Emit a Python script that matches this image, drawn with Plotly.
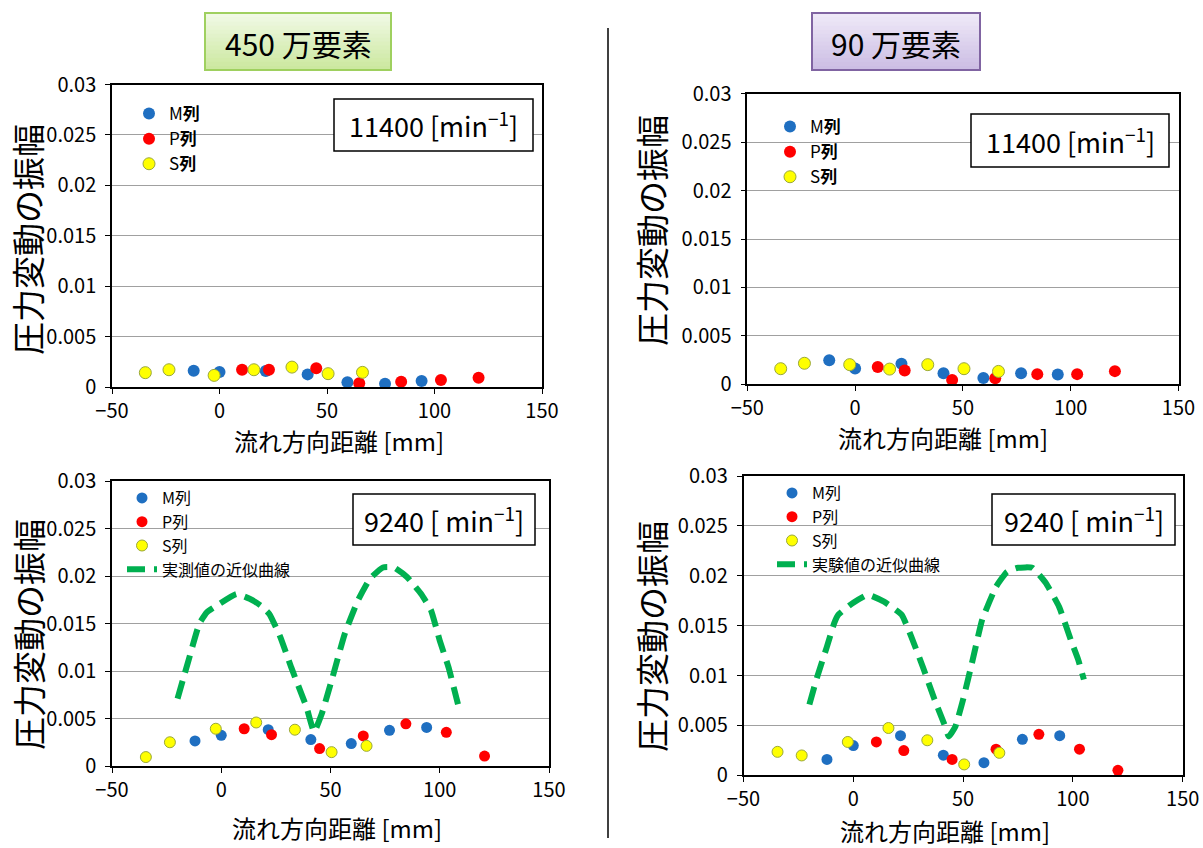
import plotly.graph_objects as go

W, H = 1203, 848
FONT = "Noto Sans CJK JP, Noto Sans, sans-serif"

# ---------------- data ----------------
M_x = [-12, 0, 21.5, 41, 59.5, 77, 94]
P_x = [10.5, 23, 45, 65, 84.5, 103, 120.5]
S_x = [-34.5, -23.5, -2.5, 16, 33.7, 50.5, 66.5]

# 450万要素, 11400 min-1
tl_M = [0.00164, 0.00151, 0.00161, 0.00128, 0.00049, 0.00036, 0.00063]
tl_P = [0.00174, 0.00174, 0.00188, 0.00039, 0.00056, 0.00072, 0.00095]
tl_S = [0.00145, 0.00174, 0.00118, 0.00174, 0.00200, 0.00135, 0.00148]

# 90万要素, 11400 min-1
tr_M = [0.00248, 0.00164, 0.00213, 0.00115, 0.00066, 0.00115, 0.00101]
tr_P = [0.00178, 0.00143, 0.00045, 0.00063, 0.00105, 0.00105, 0.00136]
tr_S = [0.00161, 0.00217, 0.00203, 0.00157, 0.00203, 0.00161, 0.00133]

# 450万要素, 9240 min-1
bl_M = [0.00264, 0.00323, 0.00382, 0.00278, 0.00236, 0.00375, 0.00406]
bl_P = [0.00392, 0.00330, 0.00184, 0.00316, 0.00444, 0.00354, 0.00104]
bl_S = [0.00094, 0.00250, 0.00392, 0.00458, 0.00382, 0.00146, 0.00212]

# 90万要素, 9240 min-1
br_M = [0.00159, 0.00298, 0.00397, 0.00202, 0.00126, 0.00361, 0.00397]
br_P = [0.00334, 0.00248, 0.00159, 0.00262, 0.00411, 0.00262, 0.00050]
br_S = [0.00235, 0.00199, 0.00334, 0.00474, 0.00351, 0.00109, 0.00225]

# approximate curves of the measured values
bl_curve_x = [-20, -15, -10, -6.5, -2, 7, 13, 18, 22, 27, 32, 39, 42.5, 46, 51,
              56.5, 62.5, 68, 74, 79, 85, 91.5, 96, 100, 104, 109]
bl_curve_y = [0.0071, 0.0111, 0.0150, 0.0162, 0.0169, 0.0181, 0.0176, 0.0169,
              0.0160, 0.0136, 0.0104, 0.0062, 0.0036, 0.0055, 0.0094, 0.0139,
              0.0174, 0.0197, 0.0209, 0.0209, 0.0199, 0.0181, 0.0164, 0.0132,
              0.0104, 0.0059]
br_curve_x = [-20, -16.4, -12, -8.6, -6.8, 0, 6.6, 14, 22, 26.4, 31.6, 37, 41.3,
              43.5, 46.5, 50, 54.4, 58.7, 65, 70, 75, 81.5, 87.6, 93.7, 99,
              102.4, 105]
br_curve_y = [0.0071, 0.0099, 0.0129, 0.0153, 0.0161, 0.0173, 0.0181, 0.0174,
              0.0161, 0.0139, 0.0109, 0.0076, 0.0052, 0.0039, 0.0049, 0.0076,
              0.0116, 0.0156, 0.0189, 0.0204, 0.0208, 0.0208, 0.0193, 0.0169,
              0.0136, 0.0116, 0.0096]

x_ticks = [-50, 0, 50, 100, 150]
y_ticks = [0, 0.005, 0.01, 0.015, 0.02, 0.025, 0.03]

series_names_top = ["M<b>列</b>", "P<b>列</b>", "S<b>列</b>"]
series_names_bot = ["M列", "P列", "S列"]
curve_names = ["実測値の近似曲線", "実験値の近似曲線"]
panel_titles = ["450 万要素", "90 万要素"]
speed_labels = ["11400 [min<sup>−1</sup>]", "9240 [ min<sup>−1</sup>]"]
x_title = "流れ方向距離 [mm]"
y_title = "圧力変動の振幅"

# ---------------- styles ----------------
COL_M = "#1f6fc1"
COL_P = "#ff0000"
COL_S = "#ffff00"
COL_S_LINE = "#9aa83a"
COL_CURVE = "#00b050"


def px_x(p):
    return p / W


def px_y(p):
    return 1 - p / H


fig = go.Figure()

# axis domains in pixel coordinates: (left, right, top, bottom)
panels = [
    ("x", "y", (112, 542, 84.5, 387.3), "legend"),
    ("x2", "y2", (747.3, 1178.5, 93.7, 384.3), "legend2"),
    ("x3", "y3", (112, 549, 481, 766), "legend3"),
    ("x4", "y4", (743.5, 1182.7, 476, 775.3), "legend4"),
]

data_sets = [
    (tl_M, tl_P, tl_S, None, None, series_names_top, None),
    (tr_M, tr_P, tr_S, None, None, series_names_top, None),
    (bl_M, bl_P, bl_S, bl_curve_x, bl_curve_y, series_names_bot, curve_names[0]),
    (br_M, br_P, br_S, br_curve_x, br_curve_y, series_names_bot, curve_names[1]),
]

for (xa, ya, dom, leg), (yM, yP, yS, cx, cy, names, cname) in zip(panels, data_sets):
    msize = 12 if cx is None else 11
    fig.add_trace(go.Scatter(x=M_x, y=yM, mode="markers", name=names[0],
                             marker=dict(color=COL_M, size=msize, line=dict(width=0)),
                             xaxis=xa, yaxis=ya, legend=leg, legendgroup=leg + "m"))
    fig.add_trace(go.Scatter(x=P_x, y=yP, mode="markers", name=names[1],
                             marker=dict(color=COL_P, size=msize, line=dict(width=0)),
                             xaxis=xa, yaxis=ya, legend=leg, legendgroup=leg + "p"))
    fig.add_trace(go.Scatter(x=S_x, y=yS, mode="markers", name=names[2],
                             marker=dict(color=COL_S, size=msize,
                                         line=dict(width=1, color=COL_S_LINE)),
                             xaxis=xa, yaxis=ya, legend=leg, legendgroup=leg + "s"))
    if cx is not None:
        fig.add_trace(go.Scatter(x=cx, y=cy, mode="lines", name=cname,
                                 line=dict(color=COL_CURVE, width=6, dash="18px,9px",
                                           shape="spline", smoothing=0.4),
                                 xaxis=xa, yaxis=ya, legend=leg, legendgroup=leg + "c"))

layout = dict(
    template="none",
    width=W, height=H, autosize=False,
    margin=dict(l=0, r=0, t=0, b=0, pad=0),
    paper_bgcolor="white", plot_bgcolor="white",
    font=dict(family=FONT, color="black", size=18),
    showlegend=True,
)

for i, (xa, ya, dom, leg) in enumerate(panels):
    l, r, t, b = dom
    xkey = "xaxis" if xa == "x" else "xaxis" + xa[1:]
    ykey = "yaxis" if ya == "y" else "yaxis" + ya[1:]
    layout[xkey] = dict(domain=[px_x(l), px_x(r)], anchor=ya, range=[-50, 150],
                        tickvals=x_ticks, showgrid=False, zeroline=False,
                        automargin=False,
                        showline=True, linecolor="black", linewidth=1.5, mirror=True,
                        ticks="outside", ticklen=5, tickcolor="black", tickwidth=1,
                        tickfont=dict(size=20, family=FONT, color="black"))
    layout[ykey] = dict(domain=[px_y(b), px_y(t)], anchor=xa, range=[0, 0.03],
                        tickvals=y_ticks, showgrid=True, gridcolor="#a0a0a0",
                        gridwidth=1.2, zeroline=False, automargin=False,
                        showline=True, linecolor="black", linewidth=1.5, mirror=True,
                        ticks="outside", ticklen=5, tickcolor="black", tickwidth=1,
                        ticklabelstandoff=5,
                        tickfont=dict(size=20, family=FONT, color="black"))

# legends
leg_common = dict(bgcolor="rgba(0,0,0,0)", borderwidth=0, xanchor="left",
                  yanchor="top", xref="paper", yref="paper", itemwidth=30,
                  traceorder="normal")
layout["legend"] = dict(leg_common, x=px_x(129), y=px_y(96),
                        font=dict(size=17, family=FONT, color="black"), tracegroupgap=3)
layout["legend2"] = dict(leg_common, x=px_x(770), y=px_y(109),
                         font=dict(size=17, family=FONT, color="black"), tracegroupgap=2)
layout["legend3"] = dict(leg_common, x=px_x(122), y=px_y(481),
                         font=dict(size=16, family=FONT, color="black"), tracegroupgap=0)
layout["legend4"] = dict(leg_common, x=px_x(772), y=px_y(476),
                         font=dict(size=16, family=FONT, color="black"), tracegroupgap=0)

shapes = []
annotations = []

# white legend backgrounds covering gridlines (between grid and data)
legend_bg = [(145, 334, 100, 182), (787, 971, 110, 190),
             (113, 353, 483, 572), (745, 992, 478, 572)]
for x0, x1, y0, y1 in legend_bg:
    shapes.append(dict(type="rect", xref="paper", yref="paper",
                       x0=px_x(x0), x1=px_x(x1), y0=px_y(y1), y1=px_y(y0),
                       fillcolor="white", line=dict(width=0), layer="between"))

# title boxes with vertical gradient
title_boxes = [
    (205, 391, 13, 70, (240, 249, 228), (204, 232, 160), "#9fd05f", panel_titles[0]),
    (812, 980, 13, 70, (238, 232, 247), (204, 190, 228), "#8064a2", panel_titles[1]),
]
for x0, x1, y0, y1, c0, c1, border, text in title_boxes:
    n = 14
    for k in range(n):
        f = k / (n - 1)
        c = tuple(round(c0[j] + (c1[j] - c0[j]) * f) for j in range(3))
        ya0 = y0 + (y1 - y0) * k / n
        ya1 = y0 + (y1 - y0) * (k + 1) / n
        shapes.append(dict(type="rect", xref="paper", yref="paper",
                           x0=px_x(x0), x1=px_x(x1), y0=px_y(ya1 + 0.5), y1=px_y(ya0),
                           fillcolor="rgb(%d,%d,%d)" % c, line=dict(width=0),
                           layer="above"))
    shapes.append(dict(type="rect", xref="paper", yref="paper",
                       x0=px_x(x0), x1=px_x(x1), y0=px_y(y1), y1=px_y(y0),
                       fillcolor="rgba(0,0,0,0)", line=dict(width=2, color=border),
                       layer="above"))
    annotations.append(dict(text=text, xref="paper", yref="paper",
                            x=px_x((x0 + x1) / 2), y=px_y((y0 + y1) / 2 + 1),
                            xanchor="center", yanchor="middle", showarrow=False,
                            font=dict(size=30, family=FONT, color="black")))

# separator
shapes.append(dict(type="line", xref="paper", yref="paper",
                   x0=px_x(608), x1=px_x(608), y0=px_y(838), y1=px_y(28),
                   line=dict(color="black", width=1.5)))

# speed boxes
speed_boxes = [(334, 533, 99, 151, speed_labels[0]), (971, 1169, 114, 167, speed_labels[0]),
               (353, 535, 494, 545, speed_labels[1]), (992, 1175, 494, 545, speed_labels[1])]
for x0, x1, y0, y1, text in speed_boxes:
    shapes.append(dict(type="rect", xref="paper", yref="paper",
                       x0=px_x(x0), x1=px_x(x1), y0=px_y(y1), y1=px_y(y0),
                       fillcolor="white", line=dict(width=1.5, color="black"),
                       layer="above"))
    annotations.append(dict(text=text, xref="paper", yref="paper",
                            x=px_x((x0 + x1) / 2), y=px_y((y0 + y1) / 2),
                            xanchor="center", yanchor="middle", showarrow=False,
                            font=dict(size=27, family=FONT, color="black")))

# axis titles
for cx_, cy_ in [(27, 240), (651, 231), (28, 635), (651, 637)]:
    annotations.append(dict(text=y_title, xref="paper", yref="paper",
                            x=px_x(cx_), y=px_y(cy_), xanchor="center",
                            yanchor="middle", textangle=-90, showarrow=False,
                            font=dict(size=33, family=FONT, color="black")))
for cx_, cy_ in [(339, 440), (943, 437), (337, 827), (945, 830)]:
    annotations.append(dict(text=x_title, xref="paper", yref="paper",
                            x=px_x(cx_), y=px_y(cy_), xanchor="center",
                            yanchor="middle", showarrow=False,
                            font=dict(size=24, family=FONT, color="black")))

layout["shapes"] = shapes
layout["annotations"] = annotations
fig.update_layout(**layout)

fig.write_html("out.html",
               config={"displayModeBar": False},
               post_script="document.body.style.margin='0px';"
                           "document.body.style.overflow='hidden';")
